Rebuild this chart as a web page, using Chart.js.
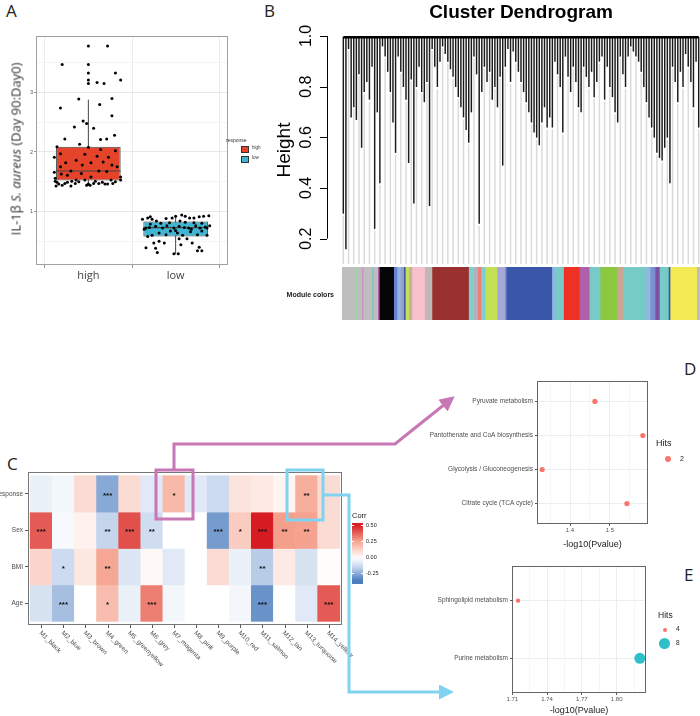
<!DOCTYPE html>
<html>
<head>
<meta charset="utf-8">
<script src="https://cdn.jsdelivr.net/npm/chart.js@4.4.1/dist/chart.umd.min.js"></script>
<style>
  body { margin: 0; width: 700px; height: 716px; position: relative; background: #fff; overflow: hidden;
         font-family: "Liberation Sans", Arial, sans-serif; }
  canvas { position: absolute; }
  .t { position: absolute; white-space: nowrap; line-height: 1; }
  .letter { font-family: "Open Sans", sans-serif; font-size: 17px; color: #222; }
  svg { position: absolute; left: 0; top: 0; pointer-events: none; }
</style>
</head>
<body>

<div class="t letter" style="left:6px;top:2px">A</div>
<div class="t letter" style="left:264px;top:2px">B</div>
<div class="t letter" style="left:7px;top:455px">C</div>
<div class="t letter" style="left:684px;top:360px">D</div>
<div class="t letter" style="left:684px;top:566px">E</div>

<!-- panel A -->
<canvas id="cA" width="232" height="290" style="left:0;top:0"></canvas>
<div class="t" style="left:16px;top:149px;transform:translate(-50%,-50%) rotate(-90deg);font-family:'Open Sans';font-size:13px;color:#333">IL-1β <i>S. aureus</i> (Day 90:Day0)</div>
<div class="t" style="left:226px;top:138px;font-size:5px;color:#333">response</div>
<div id="legA"></div>

<!-- panel B -->
<canvas id="cB" width="450" height="270" style="left:250px;top:0"></canvas>
<div class="t" style="left:521px;top:2px;transform:translateX(-50%);font-size:19px;font-weight:bold;color:#000">Cluster Dendrogram</div>
<canvas id="cBar" width="358" height="53" style="left:342px;top:267px"></canvas>
<div class="t" style="right:366px;top:291px;font-size:7px;font-weight:bold;color:#222">Module colors</div>

<!-- panel C -->
<canvas id="cC" width="380" height="215" style="left:0;top:455px"></canvas>
<div class="t" style="left:352px;top:512px;font-size:7.5px;color:#222">Corr</div>
<div id="corrBar" style="position:absolute;left:352px;top:523px;width:11px;height:61px"></div>
<div id="corrLabels"></div>

<!-- panel D -->
<canvas id="cD" width="320" height="180" style="left:380px;top:370px"></canvas>
<div class="t" style="left:656px;top:439px;font-size:9px;color:#222">Hits</div>
<div style="position:absolute;left:665px;top:456px;width:6px;height:6px;border-radius:50%;background:#F8766D"></div>
<div class="t" style="left:680px;top:455px;font-size:7px;color:#222">2</div>

<!-- panel E -->
<canvas id="cE" width="280" height="156" style="left:420px;top:560px"></canvas>
<div class="t" style="left:658px;top:611px;font-size:8.5px;color:#222">Hits</div>
<div style="position:absolute;left:663px;top:628px;width:4px;height:4px;border-radius:50%;background:#F8766D"></div>
<div class="t" style="left:676px;top:626px;font-size:6.5px;color:#222">4</div>
<div style="position:absolute;left:659px;top:638px;width:11px;height:11px;border-radius:50%;background:#2EBFC9"></div>
<div class="t" style="left:676px;top:640px;font-size:6.5px;color:#222">8</div>

<svg width="700" height="716">
  <defs>
    <marker id="ap" markerWidth="5" markerHeight="5" refX="3" refY="2.5" orient="auto"><path d="M0,0 L5,2.5 L0,5 z" fill="#c877b5"/></marker>
    <marker id="ab" markerWidth="5" markerHeight="5" refX="3" refY="2.5" orient="auto"><path d="M0,0 L5,2.5 L0,5 z" fill="#7fd3f0"/></marker>
  </defs>
  <rect x="156" y="470" width="37" height="49" fill="none" stroke="#c877b5" stroke-width="3"/>
  <polyline points="174,470 174,444 395,444 450,400" fill="none" stroke="#c877b5" stroke-width="3" marker-end="url(#ap)"/>
  <rect x="287" y="470" width="36" height="50" fill="none" stroke="#7fd3f0" stroke-width="3"/>
  <polyline points="323,495 349,495 349,692 448,692" fill="none" stroke="#7fd3f0" stroke-width="3" marker-end="url(#ab)"/>
</svg>

<script>
// ---------- panel A : box plot ----------
const groups = ['high', 'low'];
const boxFill = ['#e5442b', '#40b6d2'];
const q1 = [1.52, 0.58];
const median = [1.68, 0.73];
const q3 = [2.09, 0.83];
const whiskLo = [1.43, 0.28];
const whiskHi = [2.88, 0.94];
// [jitter offset, value]
const highPts = [[0,3.78],[0.22,3.78],[-0.30,3.47],[0,3.47],[0,3.33],[0.31,3.33],[0,3.21],[0,3.15],[0.37,3.21],[0.1,3.17],
  [0.18,3.15],[-0.11,2.89],[0.27,2.9],[0.13,2.8],[-0.32,2.74],[0.27,2.61],[-0.06,2.52],[-0.02,2.48],[0.06,2.4],[-0.16,2.42],
  [0.3,2.28],[-0.27,2.22],[0.21,2.22],[0.14,2.21],[-0.1,2.13],[-0.36,2.09],[0,2.08],[-0.39,1.91],[-0.32,1.97],[0.31,2.02],
  [0.14,2.04],[-0.04,1.96],[0.1,1.93],[0.23,1.91],[-0.14,1.86],[-0.26,1.82],[0.03,1.82],[0.17,1.83],[-0.07,1.78],[0.27,1.78],
  [-0.32,1.75],[0.33,1.75],[-0.2,1.68],[0.12,1.68],[0.21,1.67],[-0.39,1.66],[-0.08,1.64],[-0.31,1.63],[-0.24,1.61],[0.03,1.58],
  [0.37,1.58],[-0.38,1.56],[-0.14,1.53],[-0.04,1.53],[-0.19,1.51],[0.08,1.51],[0.26,1.53],[0.37,1.53],[-0.36,1.49],[-0.24,1.49],
  [-0.11,1.5],[0.16,1.49],[0.31,1.5],[-0.34,1.46],[-0.27,1.47],[-0.15,1.47],[0,1.46],[0.06,1.47],[0.12,1.47],[0.22,1.46],
  [0.28,1.47],[-0.37,1.43],[-0.3,1.44],[-0.2,1.43],[-0.02,1.44],[0.02,1.44],[0.19,1.46],[-0.38,1.51]];
const lowPts = [[-0.38,0.87],[-0.32,0.89],[-0.29,0.91],[-0.27,0.87],[-0.22,0.84],[-0.11,0.88],[-0.04,0.89],[0,0.92],[0.07,0.94],
  [0.11,0.92],[0.16,0.89],[0.21,0.89],[0.27,0.91],[0.32,0.92],[0.38,0.93],[-0.34,0.72],[-0.3,0.73],[-0.23,0.75],[-0.15,0.72],
  [-0.1,0.76],[-0.02,0.72],[0.04,0.75],[0.1,0.73],[0.15,0.72],[0.23,0.76],[0.28,0.72],[0.34,0.74],[0.39,0.76],[-0.32,0.58],
  [-0.27,0.6],[-0.19,0.64],[-0.11,0.61],[-0.06,0.67],[0.02,0.64],[0.08,0.6],[0.17,0.66],[0.25,0.61],[0.3,0.67],[0.36,0.6],
  [-0.25,0.47],[-0.19,0.5],[-0.13,0.47],[0.04,0.54],[0.06,0.44],[0.13,0.54],[0.19,0.47],[-0.34,0.39],[-0.23,0.38],[0.27,0.4],
  [0.3,0.34],[-0.21,0.31],[-0.02,0.29],[0.03,0.29],[0.25,0.34],[-0.07,0.81],[0.11,0.82],[0.21,0.81],[-0.29,0.79],[0.3,0.8],
  [0.36,0.72],[-0.36,0.7],[0,0.68],[0.18,0.7],[-0.17,0.8],[0.05,0.84]];
const yTicksA = [0.5, 1, 1.5, 2, 2.5, 3, 3.5];

// ---------- panel B : dendrogram ----------
const yTicksB = [0.2, 0.4, 0.6, 0.8, 1.0];
const leafTips = [0.30,0.16,0.95,0.68,0.72,0.67,0.85,0.56,0.78,0.82,0.75,0.88,0.24,0.70,0.42,0.96,0.92,0.86,0.78,0.66,
  0.54,0.92,0.86,0.80,0.75,0.50,0.83,0.34,0.80,0.88,0.78,0.74,0.82,0.33,0.95,0.88,0.80,0.90,0.96,0.93,
  0.90,0.87,0.84,0.80,0.76,0.72,0.68,0.63,0.58,0.70,0.92,0.85,0.26,0.78,0.88,0.82,0.86,0.75,0.80,0.72,
  0.84,0.49,0.88,0.95,0.82,0.94,0.90,0.86,0.82,0.78,0.74,0.70,0.66,0.62,0.60,0.57,0.66,0.72,0.64,0.68,
  0.64,0.90,0.85,0.80,0.62,0.92,0.84,0.78,0.88,0.82,0.72,0.70,0.88,0.84,0.80,0.86,0.76,0.82,0.90,0.92,
  0.75,0.88,0.80,0.76,0.70,0.66,0.92,0.85,0.80,0.92,0.96,0.94,0.92,0.90,0.86,0.80,0.74,0.68,0.64,0.60,
  0.54,0.52,0.51,0.56,0.60,0.42,0.88,0.82,0.74,0.86,0.80,0.93,0.88,0.82,0.72,0.90,0.64];
const rootHeight = 0.995;
const moduleBarColors = ['#bebebe','#90e090','#bebebe','#d080c0','#bebebe','#76cbc7','#bebebe','#b05aa8','#050505','#6a7fd0',
  '#8fb8e0','#9aa0c8','#3a56a8','#c4e055','#c8b0a0','#f7c1cc','#c0b8b8','#9b3030','#7fcfcf','#b0b0c0',
  '#ef7f72','#7fcfcf','#c4e055','#a8a8d8','#5b6fc0','#3a56a8','#8fb8e0','#76cbc7','#ef3124','#b060a8',
  '#76cbc7','#8dc63f','#caa58f','#76cbc7','#8fb8e0','#7a90d0','#7b52a3','#76cbc7','#3a56a8','#f4ea55','#bebebe'];
const moduleBarWidths = [40,3,17,3,27,5,12,5,43,10,10,10,5,10,10,38,22,110,15,12,10,13,35,25,5,135,10,25,48,29,33,50,20,65,15,15,13,27,5,80,10];

// ---------- panel C : module-trait heatmap ----------
const modules = ['M1_black','M2_blue','M3_brown','M4_green','M5_greenyellow','M6_grey','M7_magenta','M8_pink',
  'M9_purple','M10_red','M11_salmon','M12_tan','M13_turquoise','M14_yellow'];
const traits = ['response', 'Sex', 'BMI', 'Age'];
const corrResponse = [-0.05,-0.03,0.10,-0.25,0.10,-0.08,0.20,-0.08,-0.13,0.08,0.06,0.03,0.23,0.10];
const corrSex      = [0.40,-0.02,0.04,-0.15,0.42,-0.12,0,0,-0.28,0.15,0.52,0.27,0.26,0.10];
const corrBMI      = [0.12,-0.13,0.07,0.25,-0.09,0.02,-0.08,0,0.10,-0.05,-0.17,0.06,-0.10,0.01];
const corrAge      = [-0.10,-0.20,0,0.19,-0.05,0.33,-0.03,0,0,-0.03,-0.30,0,-0.08,0.40];
const starsResponse = ['','','','***','','','*','','','','','','**',''];
const starsSex      = ['***','','','**','***','**','','','***','*','***','**','**',''];
const starsBMI      = ['','*','','**','','','','','','','**','','',''];
const starsAge      = ['','***','','*','','***','','','','','***','','','***'];
const corrLegendTicks = [0.5, 0.25, 0, -0.25];

// ---------- panels D, E : enrichment dot plots ----------
const pathwaysD = ['Pyruvate metabolism','Pantothenate and CoA biosynthesis','Glycolysis / Gluconeogenesis','Citrate cycle (TCA cycle)'];
const logpD = [1.4625, 1.583, 1.33, 1.543];
const hitsD = [2, 2, 2, 2];
const xTicksD = [1.35, 1.4, 1.45, 1.5, 1.55];
const majorD = [1.4, 1.5];
const pathwaysE = ['Sphingolipid metabolism', 'Purine metabolism'];
const logpE = [1.715, 1.82];
const hitsE = [4, 8];
const xTicksE = [1.71, 1.725, 1.74, 1.755, 1.77, 1.785, 1.80, 1.815];
const majorE = [1.71, 1.74, 1.77, 1.80];

const frame = {
  id: 'frame',
  afterDraw(chart, args, opts) {
    const a = chart.chartArea, c = chart.ctx;
    c.save();
    c.strokeStyle = opts.color || '#666';
    c.lineWidth = 1;
    c.strokeRect(a.left + 0.5, a.top + 0.5, a.width - 1, a.height - 1);
    c.restore();
  }
};
const isMajor = (list, v) => list.some(m => Math.abs(m - v) < 1e-6);
const base = { responsive: false, animation: false, events: [] };
const noLegend = { legend: { display: false }, tooltip: { enabled: false } };

// legend of panel A
document.getElementById('legA').innerHTML = groups.map((g, i) =>
  `<div style="position:absolute;left:241px;top:${146 + i * 10}px;width:6px;height:5px;background:${boxFill[i]};border:0.5px solid #333"></div>` +
  `<div class="t" style="left:252px;top:${146 + i * 10}px;font-size:4.5px;color:#333">${g}</div>`).join('');

// A
new Chart(document.getElementById('cA'), {
  type: 'scatter',
  data: {
    datasets: [
      ...groups.map((g, i) => ({ showLine: true, data: [{ x: i + 1, y: whiskLo[i] }, { x: i + 1, y: whiskHi[i] }],
        borderColor: '#444', borderWidth: 1, pointRadius: 0, order: 4 })),
      { type: 'bar', data: groups.map((g, i) => ({ x: i + 1, y: [q1[i], q3[i]] })), backgroundColor: boxFill,
        borderColor: '#444', borderWidth: 1, borderSkipped: false, barPercentage: 0.74, categoryPercentage: 1, order: 3 },
      ...groups.map((g, i) => ({ showLine: true, data: [{ x: i + 0.63, y: median[i] }, { x: i + 1.37, y: median[i] }],
        borderColor: '#444', borderWidth: 1.2, pointRadius: 0, order: 2 })),
      { data: highPts.map(p => ({ x: 1 + p[0], y: p[1] })), backgroundColor: '#000', pointRadius: 1.5, borderWidth: 0, order: 1 },
      { data: lowPts.map(p => ({ x: 2 + p[0], y: p[1] })), backgroundColor: '#000', pointRadius: 1.5, borderWidth: 0, order: 1 }
    ]
  },
  options: {
    ...base,
    layout: { padding: { top: 36, right: 3 } },
    plugins: { ...noLegend, frame: { color: '#a0a0a0' } },
    scales: {
      x: { type: 'linear', min: 0.4, max: 2.6, offset: false,
           afterBuildTicks: s => { s.ticks = groups.map((g, i) => ({ value: i + 1 })); },
           ticks: { callback: v => groups[v - 1], font: { family: 'Open Sans', size: 11 }, color: '#444', padding: 1 },
           grid: { color: '#ebebeb', tickLength: 3, tickColor: '#999' }, border: { display: false },
           afterFit: s => { s.height = 25; } },
      y: { min: 0.1, max: 3.95,
           afterBuildTicks: s => { s.ticks = yTicksA.map(v => ({ value: v })); },
           ticks: { callback: v => Number.isInteger(v) ? String(v) : '', font: { size: 5.5 }, color: '#555', padding: 1 },
           grid: { color: c => Number.isInteger(c.tick.value) ? '#e8e8e8' : '#f4f4f4', tickLength: 2,
                   tickColor: c => Number.isInteger(c.tick.value) ? '#999' : 'rgba(0,0,0,0)' },
           border: { display: false }, afterFit: s => { s.width = 36; } }
    }
  },
  plugins: [frame]
});

// B
const dendroAxis = {
  id: 'dendroAxis',
  afterDraw(chart) {
    const c = chart.ctx, y = chart.scales.y, x0 = chart.chartArea.left;
    c.save();
    c.strokeStyle = '#000'; c.fillStyle = '#000'; c.lineWidth = 1;
    c.beginPath();
    c.moveTo(x0 + 0.5, y.getPixelForValue(yTicksB[0]));
    c.lineTo(x0 + 0.5, y.getPixelForValue(yTicksB[yTicksB.length - 1]));
    yTicksB.forEach(v => { const p = Math.round(y.getPixelForValue(v)) + 0.5; c.moveTo(x0 - 7, p); c.lineTo(x0, p); });
    c.stroke();
    c.font = '16px "Liberation Sans", Arial';
    c.textAlign = 'center'; c.textBaseline = 'middle';
    yTicksB.forEach(v => {
      c.save(); c.translate(x0 - 20, y.getPixelForValue(v)); c.rotate(-Math.PI / 2);
      c.fillText(v.toFixed(1), 0, 0); c.restore();
    });
    c.font = '19px "Liberation Sans", Arial';
    c.save(); c.translate(x0 - 42, (chart.chartArea.top + chart.chartArea.bottom) / 2); c.rotate(-Math.PI / 2);
    c.fillText('Height', 0, 0); c.restore();
    c.restore();
  }
};
const nLeaf = leafTips.length;
const leafPx = 358 / nLeaf;
new Chart(document.getElementById('cB'), {
  type: 'bar',
  data: {
    datasets: [
      { data: leafTips.map((t, i) => i % 2 === 0 ? { x: i, y: [0.1, t - 0.01] } : null).filter(Boolean),
        backgroundColor: '#dadada', barThickness: 0.8, grouped: false, order: 3 },
      { data: leafTips.map((t, i) => ({ x: i, y: [t, rootHeight] })), backgroundColor: '#1a1a1a',
        barThickness: 0.8, grouped: false, order: 2 },
      { type: 'scatter', showLine: true, data: [{ x: 0, y: rootHeight }, { x: nLeaf - 1, y: rootHeight }],
        borderColor: '#000', borderWidth: 2.5, pointRadius: 0, order: 1 }
    ]
  },
  options: {
    ...base,
    layout: { padding: { left: 77, top: 36, bottom: 6, right: 0 } },
    plugins: noLegend,
    scales: {
      x: { type: 'linear', min: -0.5 - 15 / leafPx, max: nLeaf - 0.5, display: false, offset: false },
      y: { min: 0.1, max: 1.0, display: false }
    }
  },
  plugins: [dendroAxis]
});

// module colour bar
new Chart(document.getElementById('cBar'), {
  type: 'bar',
  data: {
    labels: ['Module colors'],
    datasets: moduleBarColors.map((col, i) => ({ data: [moduleBarWidths[i]], backgroundColor: col,
      borderWidth: 0, barPercentage: 1, categoryPercentage: 1 }))
  },
  options: {
    ...base, indexAxis: 'y', plugins: noLegend,
    scales: {
      x: { stacked: true, min: 0, max: moduleBarWidths.reduce((a, b) => a + b, 0), display: false },
      y: { stacked: true, display: false }
    }
  }
});

// C
const corrRows = [corrResponse, corrSex, corrBMI, corrAge];
const starRows = [starsResponse, starsSex, starsBMI, starsAge];
function mix(a, b, t) { return a.map((v, i) => Math.round(v + (b[i] - v) * t)); }
function corrColor(v) {
  const w = [255, 255, 255];
  let c;
  if (v >= 0) {
    c = v <= 0.25 ? mix(w, [246, 168, 148], v / 0.25) : mix([246, 168, 148], [214, 28, 34], Math.min(1, (v - 0.25) / 0.27));
  } else {
    const a = -v;
    c = a <= 0.15 ? mix(w, [196, 213, 236], a / 0.15) : mix([196, 213, 236], [76, 125, 190], Math.min(1, (a - 0.15) / 0.2));
  }
  return `rgb(${c[0]},${c[1]},${c[2]})`;
}
const heatDecor = {
  id: 'heatDecor',
  afterDatasetsDraw(chart) {
    const c = chart.ctx;
    c.save();
    c.fillStyle = '#111'; c.font = 'bold 8px "Liberation Sans", Arial';
    c.textAlign = 'center'; c.textBaseline = 'middle';
    chart.data.datasets.forEach((ds, r) => {
      chart.getDatasetMeta(r).data.forEach((el, i) => {
        const s = starRows[r][i];
        if (s) c.fillText(s, el.x, (el.y + el.base) / 2 + 2);
      });
    });
    c.restore();
  },
  afterDraw(chart) {
    const c = chart.ctx, x = chart.scales.x, a = chart.chartArea;
    c.save();
    c.strokeStyle = '#555'; c.lineWidth = 1;
    c.beginPath();
    modules.forEach((m, i) => { const p = Math.round(x.getPixelForValue(i)) + 0.5; c.moveTo(p, a.bottom); c.lineTo(p, a.bottom + 3); });
    c.stroke();
    c.fillStyle = '#4d4d4d'; c.font = '6.5px "Liberation Sans", Arial';
    c.textAlign = 'left'; c.textBaseline = 'middle';
    modules.forEach((m, i) => {
      c.save(); c.translate(x.getPixelForValue(i) - 1, a.bottom + 7); c.rotate(Math.PI / 4);
      c.fillText(m, 0, 0); c.restore();
    });
    c.restore();
  }
};
new Chart(document.getElementById('cC'), {
  type: 'bar',
  data: {
    datasets: traits.map((t, r) => ({
      data: modules.map((m, i) => ({ x: i, y: [r - 0.5, r + 0.5] })),
      backgroundColor: corrRows[r].map(corrColor), borderWidth: 0, grouped: false,
      barPercentage: 1, categoryPercentage: 1
    }))
  },
  options: {
    ...base,
    layout: { padding: { top: 17, right: 38, bottom: 45 } },
    plugins: { ...noLegend, frame: { color: '#777' } },
    scales: {
      x: { type: 'linear', min: -0.6, max: 13.6, display: false, offset: false },
      y: { min: -0.6, max: 3.6, reverse: true,
           afterBuildTicks: s => { s.ticks = traits.map((t, i) => ({ value: i })); },
           ticks: { callback: v => traits[v], font: { size: 6.5 }, color: '#4d4d4d', padding: 2 },
           grid: { drawOnChartArea: false, tickLength: 3, tickColor: '#555' }, border: { display: false },
           afterFit: s => { s.width = 28; } }
    }
  },
  plugins: [heatDecor, frame]
});

// colour legend of C
(function () {
  const hi = 0.547, lo = -0.41, top = 523, h = 61;
  const stops = [];
  for (let k = 0; k <= 20; k++) { const v = hi - (hi - lo) * k / 20; stops.push(`${corrColor(v)} ${k * 5}%`); }
  document.getElementById('corrBar').style.background = `linear-gradient(to bottom, ${stops.join(',')})`;
  document.getElementById('corrLabels').innerHTML = corrLegendTicks.map(v => {
    const y = top + (hi - v) / (hi - lo) * h;
    return `<div style="position:absolute;left:352px;top:${y - 0.5}px;width:2px;height:1px;background:#fff"></div>` +
      `<div style="position:absolute;left:361px;top:${y - 0.5}px;width:2px;height:1px;background:#fff"></div>` +
      `<div class="t" style="left:366px;top:${y - 3}px;font-size:5.5px;color:#222">${v.toFixed(2)}</div>`;
  }).join('');
})();

// D and E
function dotPlot(id, names, xs, hits, colors, radii, xMin, xMax, ticks, majors, digits, pad, yWidth, xHeight) {
  new Chart(document.getElementById(id), {
    type: 'scatter',
    data: { datasets: [{ data: xs.map((v, i) => ({ x: v, y: i + 1 })), backgroundColor: colors,
      pointRadius: radii, borderWidth: 0 }] },
    options: {
      ...base,
      layout: { padding: pad },
      plugins: { ...noLegend, frame: { color: '#666' } },
      scales: {
        x: { min: xMin, max: xMax,
             afterBuildTicks: s => { s.ticks = ticks.map(v => ({ value: v })); },
             ticks: { callback: v => isMajor(majors, v) ? v.toFixed(digits) : '', font: { size: 6 }, color: '#555', padding: 1, maxRotation: 0 },
             grid: { color: c => isMajor(majors, c.tick.value) ? '#e9eef0' : '#f4f6f7', tickLength: 2,
                     tickColor: c => isMajor(majors, c.tick.value) ? '#555' : 'rgba(0,0,0,0)' },
             border: { display: false },
             title: { display: true, text: '-log10(Pvalue)', font: { size: 9 }, color: '#222', padding: { top: 0, bottom: 0 } },
             afterFit: s => { s.height = xHeight; } },
        y: { min: 0.4, max: names.length + 0.6, reverse: true,
             afterBuildTicks: s => { s.ticks = names.map((n, i) => ({ value: i + 1 })); },
             ticks: { callback: v => names[v - 1], font: { size: 6.5 }, color: '#4d4d4d', padding: 2 },
             grid: { color: '#e9eef0', tickLength: 2, tickColor: '#555' }, border: { display: false },
             afterFit: s => { s.width = yWidth; } }
      }
    },
    plugins: [frame]
  });
}
dotPlot('cD', pathwaysD, logpD, hitsD, hitsD.map(() => '#F8766D'), hitsD.map(() => 2.6),
  1.317, 1.596, xTicksD, majorD, 1, { top: 11, right: 52 }, 157, 26);
dotPlot('cE', pathwaysE, logpE, hitsE, ['#F8766D', '#2EBFC9'], [2.2, 5.5],
  1.7098, 1.8253, xTicksE, majorE, 2, { top: 6, right: 54 }, 92, 23);
</script>
</body>
</html>
